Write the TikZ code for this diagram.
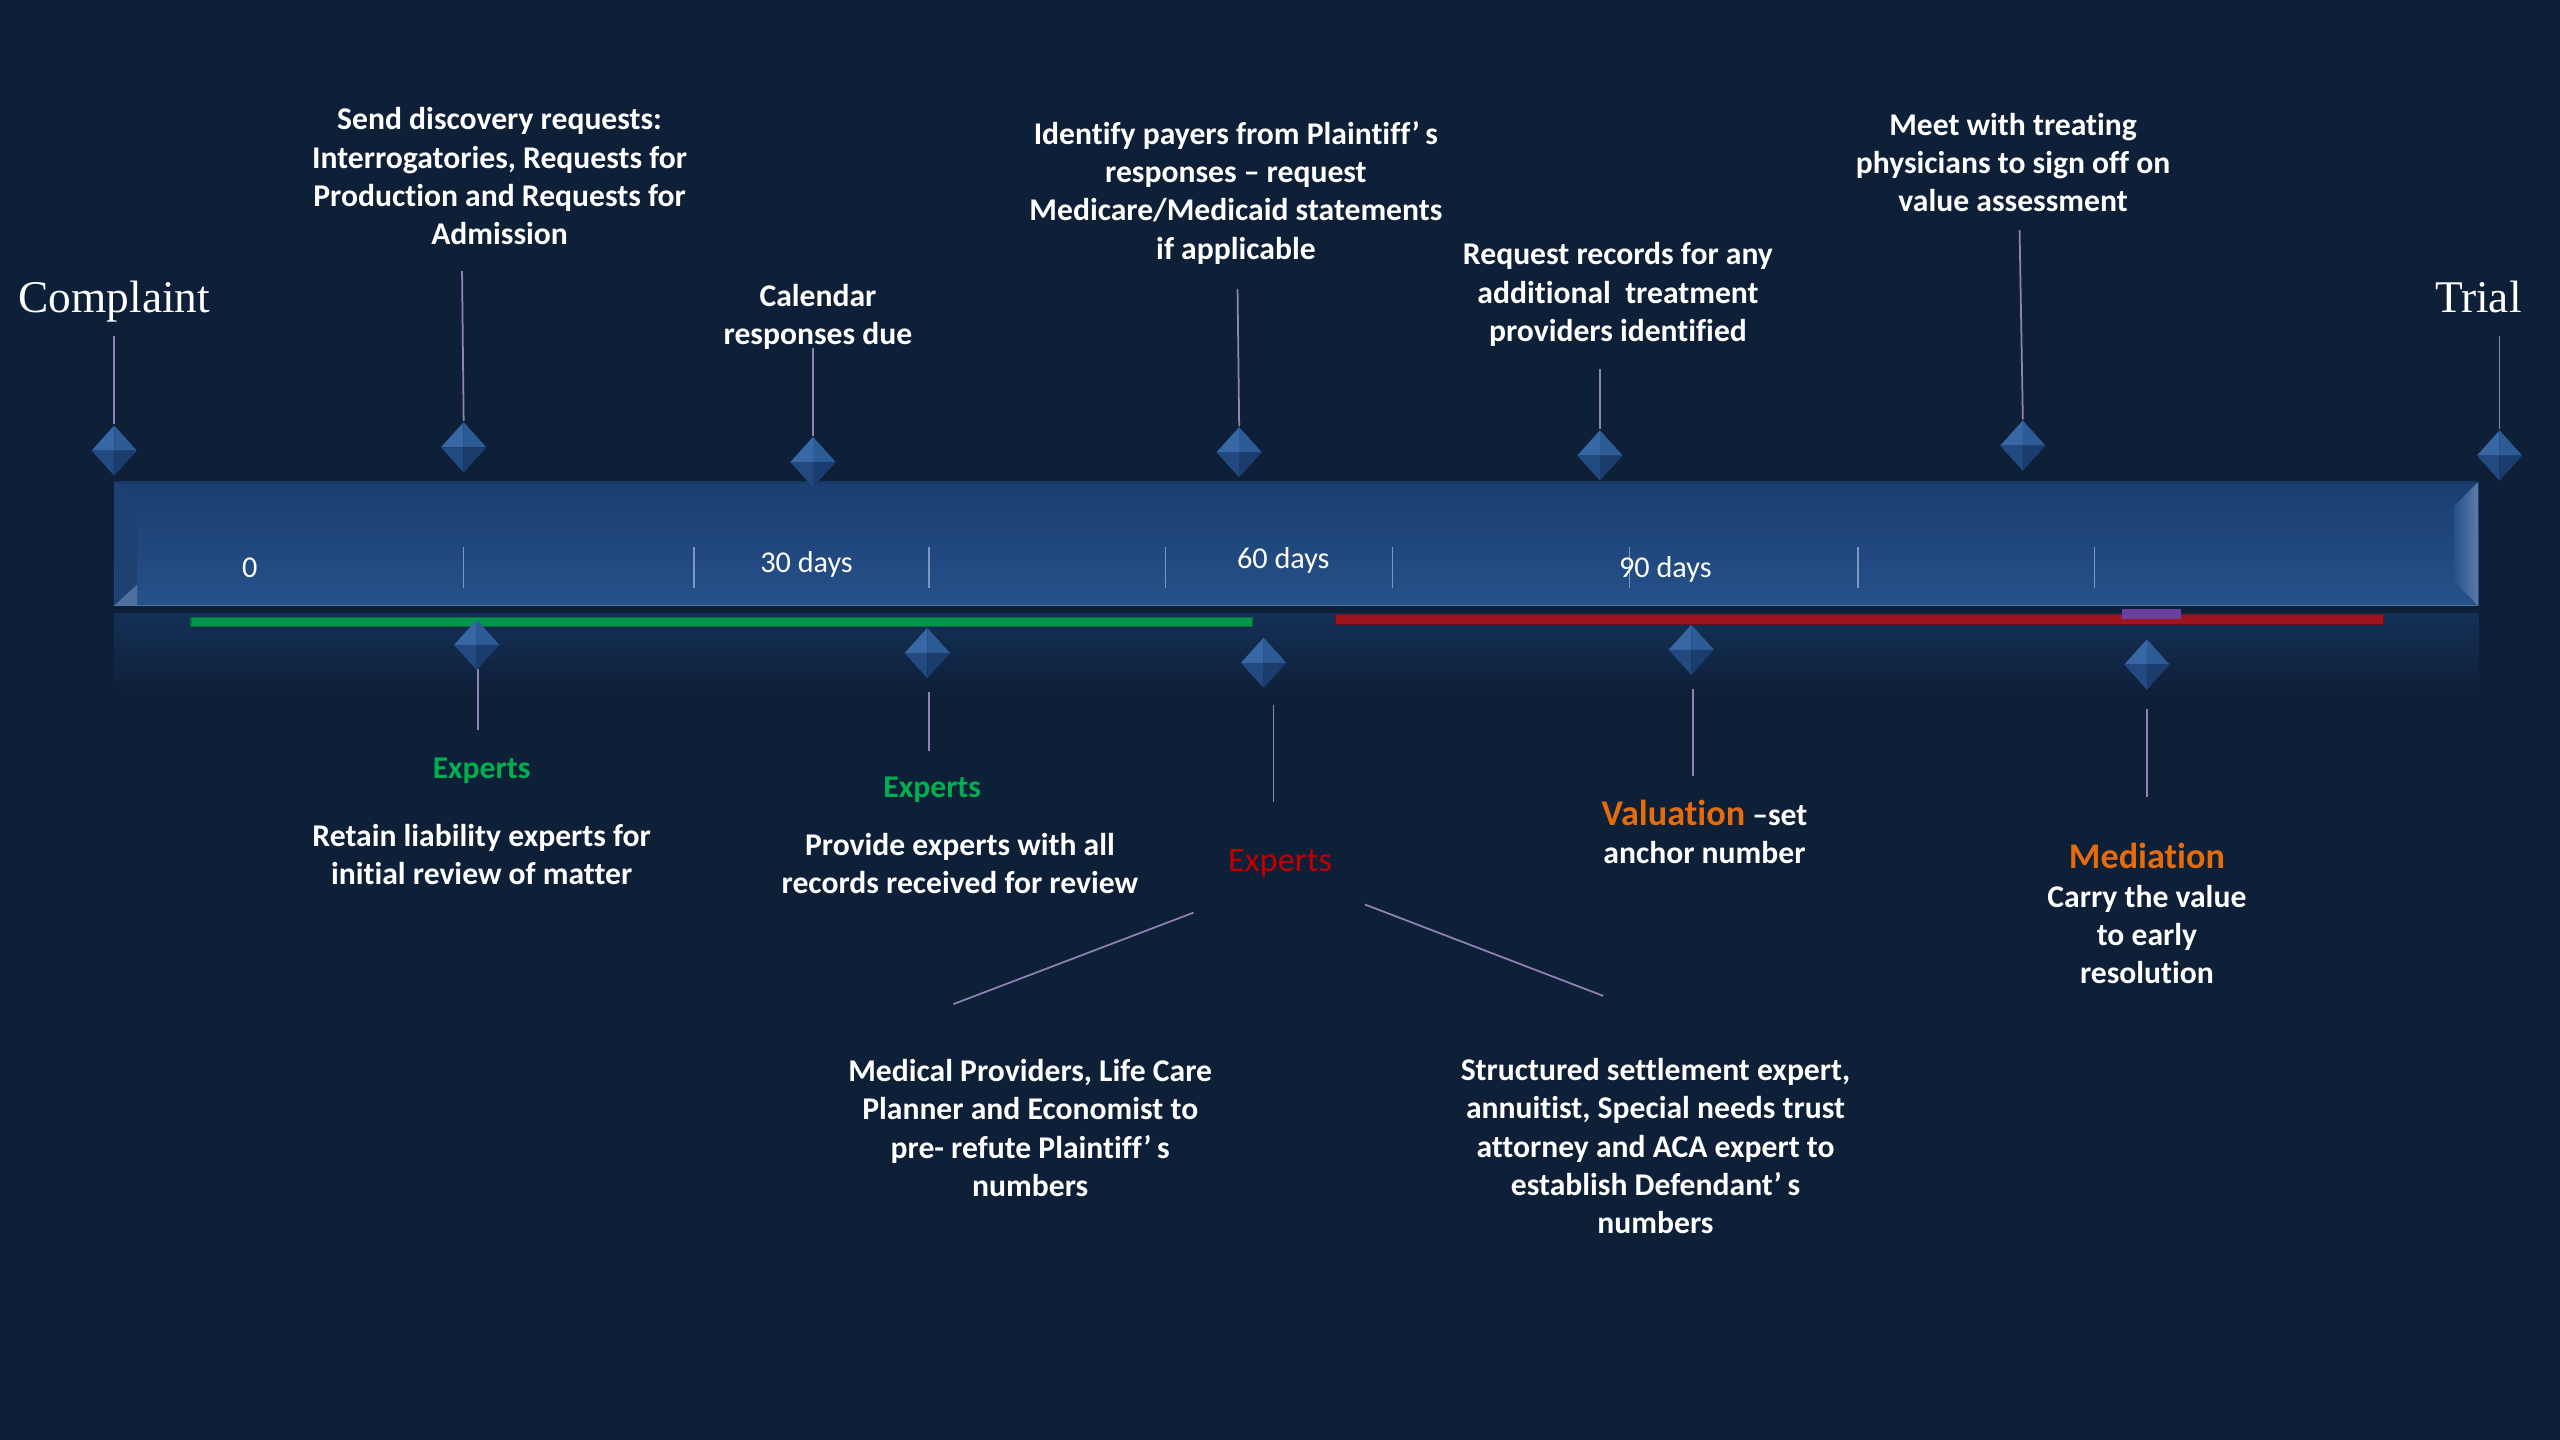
\documentclass[tikz,border=0pt]{standalone}
\usepackage{fontspec}
\setmainfont{Carlito}[Ligatures=NoCommon]
\newfontfamily\serifx{Liberation Serif}
\usetikzlibrary{shapes.geometric}
\definecolor{bg}{HTML}{0E1F38}
\definecolor{barTop}{HTML}{1B3E6F}
\definecolor{barBot}{HTML}{26518A}
\definecolor{barEdge}{HTML}{173763}
\definecolor{tickc}{HTML}{7C98C0}
\definecolor{refl}{HTML}{143056}
\definecolor{gbar}{HTML}{00944C}
\definecolor{gbarD}{HTML}{0B6B3A}
\definecolor{rbar}{HTML}{9E1520}
\definecolor{rbarD}{HTML}{6E0E16}
\definecolor{pbar}{HTML}{6B3FA0}
\definecolor{connc}{HTML}{8F82B5}
\definecolor{gemTL}{HTML}{3767A4}
\definecolor{gemTR}{HTML}{2D5B96}
\definecolor{gemBL}{HTML}{234A80}
\definecolor{gemBR}{HTML}{1B3D6D}
\definecolor{greenT}{HTML}{00B050}
\definecolor{redT}{HTML}{C00000}
\definecolor{orangeT}{HTML}{E46C0A}
\begin{document}
\begin{tikzpicture}[x=0.016327cm,y=-0.016327cm,
  txt/.style={text=white,font=\bfseries\fontsize{9}{10.9}\selectfont,align=center,inner sep=0pt},
  daylbl/.style={text=white,font=\fontsize{8.6}{10}\selectfont,inner sep=0pt},
  bigser/.style={text=white,font=\serifx\fontsize{12.9}{15}\selectfont,inner sep=0pt},
  greenhd/.style={text=greenT,font=\bfseries\fontsize{9}{10.9}\selectfont,inner sep=0pt},
  redhd/.style={text=redT,font=\fontsize{9.8}{11}\selectfont,inner sep=0pt},
  orangehd/.style={text=orangeT,font=\bfseries\fontsize{10.3}{12}\selectfont,inner sep=0pt},
  conn/.style={draw=connc,line width=0.5pt},
  tickmark/.style={draw=tickc,line width=0.4pt},
  gem/.style={diamond,minimum width=0.46cm,minimum height=0.51cm,inner sep=0pt,
    path picture={
      \fill[gemTL] (path picture bounding box.center) -- (path picture bounding box.west) -- (path picture bounding box.north) -- cycle;
      \fill[gemTR] (path picture bounding box.center) -- (path picture bounding box.north) -- (path picture bounding box.east) -- cycle;
      \fill[gemBL] (path picture bounding box.center) -- (path picture bounding box.west) -- (path picture bounding box.south) -- cycle;
      \fill[gemBR] (path picture bounding box.center) -- (path picture bounding box.south) -- (path picture bounding box.east) -- cycle;
    }}
]
\fill[bg] (0,0) rectangle (1568,882);
\useasboundingbox (0,0) rectangle (1568,882);

% reflection under the bar
\shade[top color=refl, bottom color=bg] (70,376) rectangle (1518,425);

% main bar
\shade[top color=barTop, bottom color=barBot] (70,295) rectangle (1518,371);
\fill[barTop!85!barBot] (70,295) -- (84,308) -- (84,358) -- (70,371) -- cycle;
\fill[barBot!80!white!90!barBot] (70,371) -- (84,358) -- (84,371) -- cycle;
\shade[left color=barBot, right color=barBot!75!white] (1518,295) -- (1503,310) -- (1503,356) -- (1518,371) -- cycle;
\draw[barEdge,line width=0.5pt] (70,295) -- (1518,295);
\draw[barBot!80!white,line width=0.4pt] (70,371) -- (1518,371);

% tick marks
\foreach \tx in {284,425,569,714,853,998,1138,1283}
  \draw[tickmark] (\tx,335) -- (\tx,360);

% day labels
\node[daylbl] (d0) at (153,348) {0};
\node[daylbl] (d30) at (494,346) {30 days};
\node[daylbl] (d60) at (786,343) {60 days};
\node[daylbl] (d90) at (1020,349) {90 days};

% coloured bars
\fill[gbar,draw=gbarD,line width=0.3pt] (117,378) rectangle (767,384);
\fill[rbar,draw=rbarD,line width=0.3pt] (818,376.5) rectangle (1460,382.5);
\fill[pbar] (1300,373) rectangle (1336,379);

% top diamonds
\node[gem] (g1) at (70,276) {};
\node[gem] (g2) at (284,274) {};
\node[gem] (g3) at (498,283) {};
\node[gem] (g4) at (759,277) {};
\node[gem] (g5) at (980,279) {};
\node[gem] (g6) at (1239,273) {};
\node[gem] (g7) at (1531,279) {};

% bottom diamonds
\node[gem] (b1) at (292,395) {};
\node[gem] (b2) at (568,400) {};
\node[gem] (b3) at (774,406) {};
\node[gem] (b4) at (1036,398) {};
\node[gem] (b5) at (1315,407) {};

% top texts
\node[bigser] (complaint) at (70,185) {Complaint};
\node[bigser] (trial) at (1518,182) {Trial};
\node[txt] (disc) at (306,108) {Send discovery requests:\\Interrogatories, Requests for\\Production and Requests for\\Admission};
\node[txt] (cal) at (501,194) {Calendar\\responses due};
\node[txt] (ident) at (757,118) {Identify payers from Plaintiff’\hspace{0.18em}s\\responses – request\\Medicare/Medicaid statements\\if applicable};
\node[txt] (reqrec) at (991,180.5) {Request records for any\\additional\ \ treatment\\providers identified};
\node[txt] (meet) at (1233,99.5) {Meet with treating\\physicians to sign off on\\value assessment};

% top connectors
\coordinate (c1) at (70,206);
\coordinate (c2) at (283,166);
\coordinate (c3) at (498,213);
\coordinate (c4) at (758,177);
\coordinate (c5) at (980,226);
\coordinate (c6) at (1237,141);
\coordinate (c7) at (1531,206);
\draw[conn] (c1) -- (g1.north);
\draw[conn] (c2) -- (g2.north);
\draw[conn] (c3) -- (g3.north);
\draw[conn] (c4) -- (g4.north);
\draw[conn] (c5) -- (g5.north);
\draw[conn] (c6) -- (g6.north);
\draw[conn] (c7) -- (g7.north);

% bottom texts
\node[greenhd] (exp1) at (295,472) {Experts};
\node[txt] (retain) at (295,523.5) {Retain liability experts for\\initial review of matter};
\node[greenhd] (exp2) at (571,484) {Experts};
\node[txt] (provide) at (588,529) {Provide experts with all\\records received for review};
\node[redhd] (exp3) at (784,529) {Experts};
\node[txt] (valu) at (1044,509.5) {{\color{orangeT}\fontsize{10.3}{12}\selectfont Valuation} –set\\anchor number};
\node[orangehd] (medi) at (1315,524) {Mediation};
\node[txt] (carry) at (1315,572.5) {Carry the value\\to early\\resolution};
\node[txt] (medprov) at (631,691) {Medical Providers, Life Care\\Planner and Economist to\\pre- refute Plaintiff’\hspace{0.18em}s\\numbers};
\node[txt] (struct) at (1014,702) {Structured settlement expert,\\annuitist, Special needs trust\\attorney and ACA expert to\\establish Defendant’\hspace{0.18em}s\\numbers};

% bottom connectors (short vertical leads below the diamonds)
\coordinate (f1) at (293,410);
\coordinate (e1) at (293,447);
\coordinate (f2) at (569,424);
\coordinate (e2) at (569,460);
\coordinate (f3) at (780,432);
\coordinate (e3) at (780,491);
\coordinate (f4) at (1037,422);
\coordinate (e4) at (1037,475);
\coordinate (f5) at (1315,434);
\coordinate (e5) at (1315,488);
\draw[conn] (f1) -- (e1);
\draw[conn] (f2) -- (e2);
\draw[conn] (f3) -- (e3);
\draw[conn] (f4) -- (e4);
\draw[conn] (f5) -- (e5);

% diagonal connectors from the red Experts heading
\coordinate (s1) at (731,559);
\coordinate (s1e) at (584,615);
\coordinate (s2) at (836,554);
\coordinate (s2e) at (982,610);
\draw[conn] (s1) -- (s1e);
\draw[conn] (s2) -- (s2e);
\end{tikzpicture}
\end{document}
